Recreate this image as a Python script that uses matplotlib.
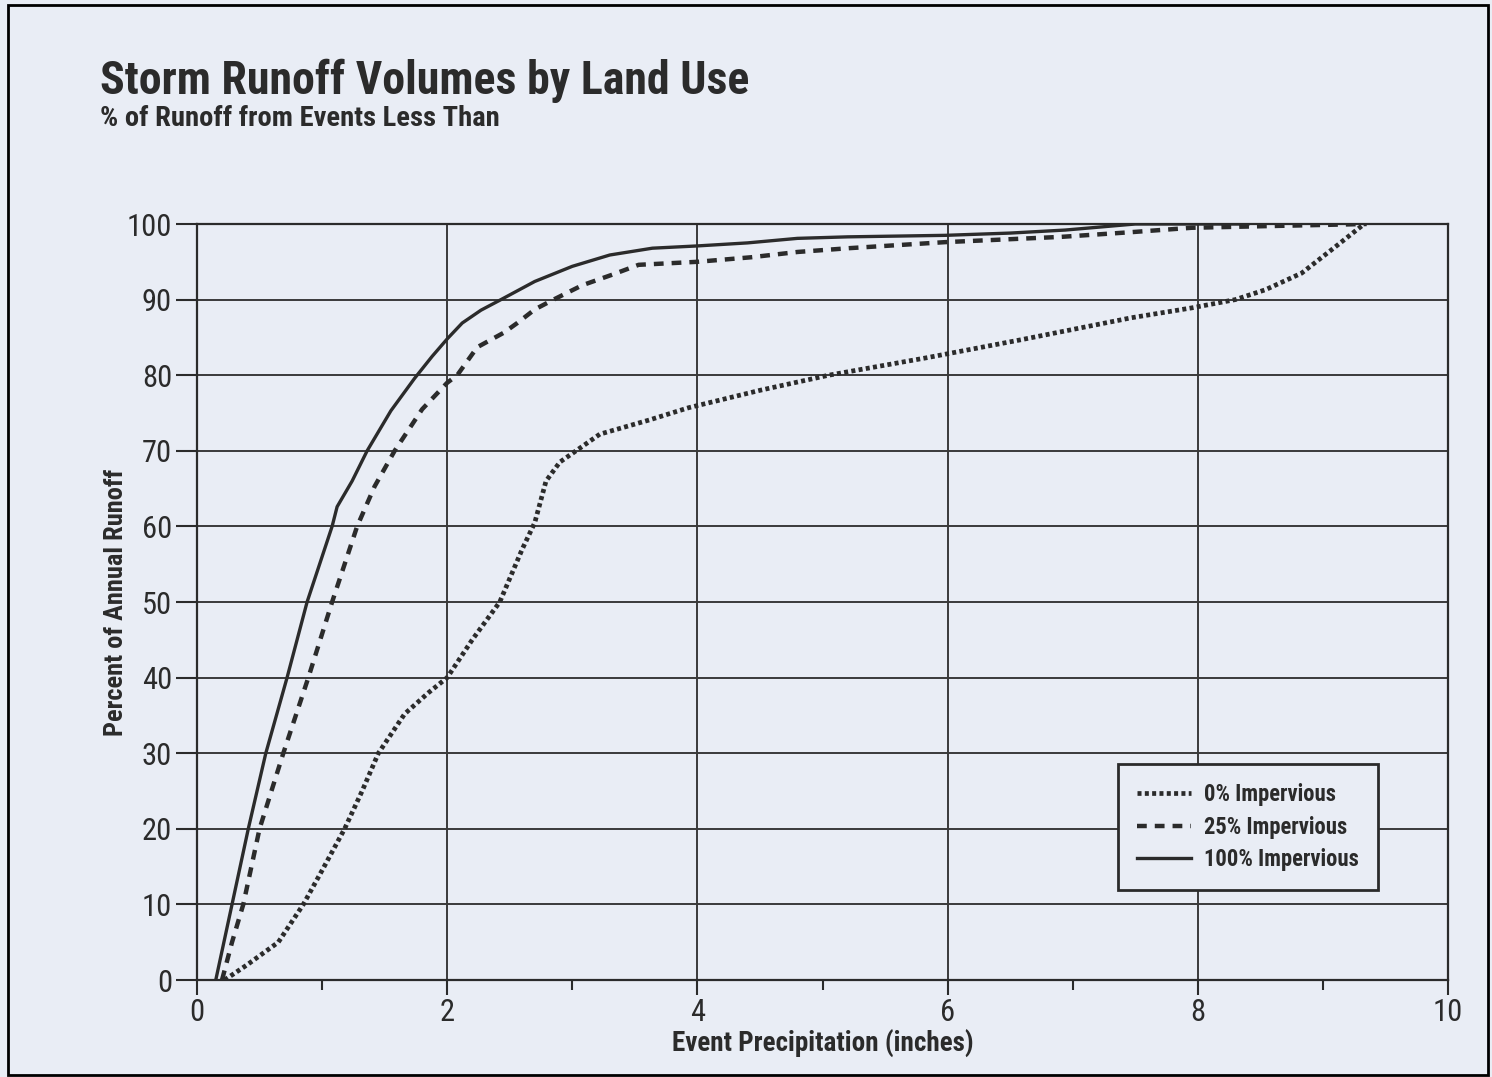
import matplotlib
matplotlib.use("Agg")
import matplotlib.pyplot as plt
from matplotlib import font_manager as fm
from matplotlib.patches import Rectangle
from matplotlib.ticker import MultipleLocator
from collections import defaultdict

# pick a condensed sans family (preferably with a bold face) if available
def _wnum(w):
    if isinstance(w, (int, float)):
        return int(w)
    return fm.weight_dict.get(str(w), 400)

_weights = defaultdict(set)
for f in fm.fontManager.ttflist:
    if 'Narrow' in f.name or 'Condensed' in f.name:
        _weights[f.name].add(_wnum(f.weight))
_pref = ['Liberation Sans Narrow', 'Roboto Condensed', 'Open Sans Condensed', 'DejaVu Sans Condensed']
_withbold = [n for n in _weights if max(_weights[n]) >= 600]
MAIN = None
for p in _pref:
    if p in _withbold:
        MAIN = p
        break
if MAIN is None and _withbold:
    MAIN = sorted(_withbold)[0]
if MAIN is None:
    MAIN = 'Roboto'
FONT = [MAIN, 'DejaVu Sans']
plt.rcParams['font.family'] = FONT

# ---- data ----
imp0_x = [0.22, 0.4, 0.65, 0.85, 1.0, 1.18, 1.32, 1.45, 1.66, 1.85, 2.0, 2.2, 2.42, 2.6, 2.7, 2.79, 2.9,
          3.03, 3.22, 3.62, 3.93, 4.5, 5.05, 5.83, 6.59, 7.47, 7.95, 8.3, 8.54, 8.83, 9.07, 9.2, 9.33]
imp0_y = [0, 2, 5, 10, 14.5, 20, 25, 30, 35.2, 38, 40, 45, 50, 57, 60.5, 66, 68.5,
          70, 72.2, 74.1, 75.7, 78, 80, 82.3, 84.7, 87.6, 88.9, 90, 91.3, 93.5, 96.6, 98.3, 100]

imp25_x = [0.2, 0.28, 0.37, 0.5, 0.69, 0.89, 1.08, 1.28, 1.42, 1.58, 1.8, 2.0, 2.08, 2.24, 2.45, 2.56,
           2.7, 2.85, 3.08, 3.32, 3.53, 4.0, 4.43, 4.8, 5.21, 5.98, 6.91, 7.45, 7.95, 8.5, 9.35]
imp25_y = [0, 5, 10, 20, 30, 40, 50, 60, 65.3, 70, 75.5, 79, 80, 83.7, 85.6, 86.9,
           88.7, 90, 91.9, 93.3, 94.6, 95.0, 95.6, 96.3, 96.8, 97.6, 98.3, 98.9, 99.5, 99.7, 100]

imp100_x = [0.15, 0.28, 0.41, 0.55, 0.72, 0.88, 1.08, 1.12, 1.24, 1.36, 1.55, 1.74, 1.88, 2.0, 2.12,
            2.27, 2.43, 2.7, 3.0, 3.3, 3.64, 4.0, 4.4, 4.8, 5.2, 5.98, 6.5, 6.94, 7.5, 8.0, 8.4]
imp100_y = [0, 10, 20, 30, 40, 50, 60, 62.6, 66, 70, 75.3, 79.6, 82.5, 84.8, 86.9,
            88.6, 90, 92.4, 94.4, 95.9, 96.8, 97.1, 97.5, 98.1, 98.3, 98.5, 98.8, 99.2, 100, 100, 100]

labels = ['0% Impervious', '25% Impervious', '100% Impervious']
x_ticks = [0, 2, 4, 6, 8, 10]
y_ticks = [0, 10, 20, 30, 40, 50, 60, 70, 80, 90, 100]

BG = '#e9edf5'
INK = '#2b2b2b'

fig = plt.figure(figsize=(14.92, 10.77), dpi=100, facecolor=BG)
ax = fig.add_axes([197/1492, 1-980/1077, (1448-197)/1492, (980-224)/1077])
ax.set_facecolor(BG)

ax.plot(imp0_x, imp0_y, color=INK, lw=3.4, linestyle=(0, (0.85, 0.7)), dash_capstyle='butt',
        solid_joinstyle='round', label=labels[0], zorder=3)
ax.plot(imp25_x, imp25_y, color=INK, lw=3.2, linestyle=(0, (2.2, 1.8)), label=labels[1], zorder=3)
ax.plot(imp100_x, imp100_y, color=INK, lw=2.4, linestyle='-', solid_joinstyle='round',
        label=labels[2], zorder=3)

ax.set_xlim(0, 10)
ax.set_ylim(0, 100)
ax.set_xticks(x_ticks)
ax.xaxis.set_minor_locator(MultipleLocator(1))
ax.set_yticks(y_ticks)
ax.grid(True, which='major', color='#3a3a3a', lw=1.4)
ax.set_axisbelow(True)
for s in ax.spines.values():
    s.set_color(INK)
    s.set_linewidth(1.6)

ax.tick_params(axis='x', which='major', length=11, width=1.5, color=INK, labelsize=22, pad=2, labelcolor=INK)
ax.tick_params(axis='x', which='minor', length=7, width=1.5, color=INK)
ax.tick_params(axis='y', which='major', length=15, width=1.5, color=INK, labelsize=22, pad=3, labelcolor=INK)

ax.set_xlabel('Event Precipitation (inches)', fontsize=19.5, fontweight='bold', color=INK, labelpad=2)
ax.set_ylabel('Percent of Annual Runoff', fontsize=19, fontweight='bold', color=INK, labelpad=-1)

leg = ax.legend(loc='upper left', bbox_to_anchor=(0.736, 0.286), borderaxespad=0,
                fancybox=False, framealpha=1, facecolor=BG, edgecolor=INK,
                prop={'family': FONT, 'weight': 'bold', 'size': 16.3},
                handlelength=2.4, handletextpad=0.55, labelspacing=0.42,
                borderpad=0.85)
leg.get_frame().set_linewidth(2)
for t in leg.get_texts():
    t.set_color(INK)

fig.text(100/1492, 1-81/1077, 'Storm Runoff Volumes by Land Use', fontsize=33,
         fontweight='bold', color=INK, va='center', ha='left')
fig.text(100/1492, 1-118/1077, '% of Runoff from Events Less Than', fontsize=20.5,
         fontweight='bold', color=INK, va='center', ha='left')

fig.add_artist(Rectangle((8/1492, 2/1077), (1488-8)/1492, (1072-2)/1077,
                         transform=fig.transFigure, fill=False, edgecolor='black', lw=2))

fig.savefig('out.png', dpi=100, facecolor=BG)
